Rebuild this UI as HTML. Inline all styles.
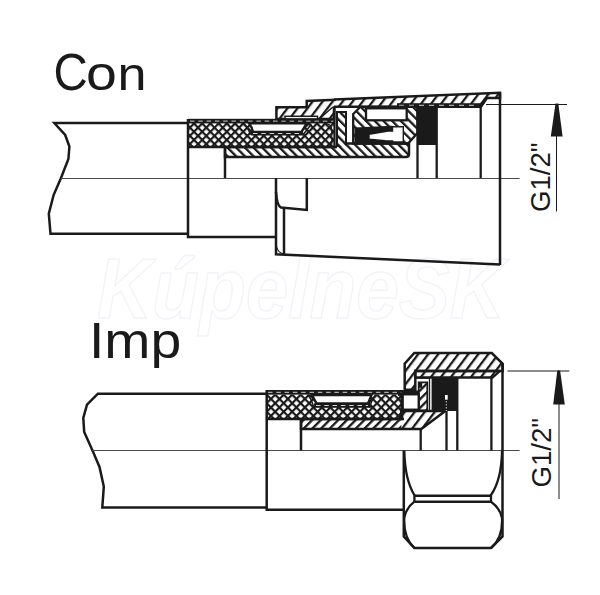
<!DOCTYPE html>
<html><head><meta charset="utf-8">
<style>
html,body{margin:0;padding:0;background:#fff;overflow:hidden;}
svg{display:block;}
text{font-family:"Liberation Sans",sans-serif;}
</style></head><body>
<svg width="600" height="595" viewBox="0 0 600 595">
<defs>
<pattern id="hf" patternUnits="userSpaceOnUse" width="6.15" height="20" patternTransform="rotate(45)"><rect x="0" y="0" width="2.3" height="20" fill="#1a1a1a"/></pattern>
<pattern id="hb" patternUnits="userSpaceOnUse" width="6.15" height="20" patternTransform="rotate(-45)"><rect x="0" y="0" width="2.3" height="20" fill="#1a1a1a"/></pattern>
<pattern id="nf" patternUnits="userSpaceOnUse" width="8" height="20" patternTransform="translate(-3,0) rotate(37)"><rect x="0" y="0" width="2.3" height="20" fill="#1a1a1a"/></pattern>
<pattern id="nf2" patternUnits="userSpaceOnUse" width="8" height="20" patternTransform="translate(2.5,0) rotate(37)"><rect x="0" y="0" width="2.3" height="20" fill="#1a1a1a"/></pattern>
<pattern id="xh" patternUnits="userSpaceOnUse" width="5.8" height="5.8" patternTransform="translate(194,122) rotate(45)"><rect x="0" y="0" width="2.2" height="5.8" fill="#1a1a1a"/><rect x="0" y="0" width="5.8" height="2.2" fill="#1a1a1a"/></pattern>
<pattern id="xh2" patternUnits="userSpaceOnUse" width="6" height="6" patternTransform="translate(275.2,393.2) rotate(45)"><rect x="0" y="0" width="2.2" height="6" fill="#1a1a1a"/><rect x="0" y="0" width="6" height="2.2" fill="#1a1a1a"/></pattern>
</defs>
<g fill="none" stroke="#1a1a1a" stroke-width="2.5" stroke-linejoin="miter" stroke-miterlimit="2.5">

<!-- watermark -->
<text x="97" y="318" font-size="86" font-weight="bold" font-style="italic" textLength="408" lengthAdjust="spacingAndGlyphs" fill="none" stroke="#f1f3f8" stroke-width="1.4">KúpelneSK</text>

<!-- ============ CON ============ -->
<g fill="#1a1a1a" stroke="none">
<text transform="translate(53.5,89.5) scale(0.93,1)" font-size="51">C</text>
<text transform="translate(86,89.5) scale(1.17,1)" font-size="47.4">o</text>
<text transform="translate(117.5,89.5) scale(1.11,1)" font-size="47">n</text>
</g>

<!-- hose -->
<path d="M188,123 L54.3,123 L65.2,135 L69.4,146.5 L68.4,159 L61,178 L53.7,194.8 L48.8,213.7 L50.5,233.7 L188,233.7"/>
<line x1="61" y1="178.5" x2="519.6" y2="178.5" stroke-width="1" stroke="#4a4a4a"/>

<!-- ferrule crosshatch -->
<path d="M188,123 L334,123 L334,147 L188,147 Z" fill="url(#xh)" stroke="none"/>
<rect x="188" y="118.8" width="147" height="4.6" fill="#1a1a1a" stroke="none"/>
<line x1="190" y1="121.1" x2="334" y2="121.1" stroke="#fff" stroke-width="0.8" stroke-dasharray="4.5 3.8"/>
<!-- pocket -->
<path d="M249,123.3 L306.7,123.3 L301.3,132 L253,132 Q252,127 249,123.3 Z" fill="#fff" stroke-width="2.3"/>
<path d="M244.3,124 Q249,129 250.3,135" stroke-width="1.4"/>
<path d="M311.3,124.3 L303.3,134.5" stroke-width="1.4"/>
<rect x="251" y="131.5" width="52" height="4" fill="#1a1a1a" stroke="none"/>
<line x1="253" y1="133.5" x2="301" y2="133.5" stroke="#fff" stroke-width="0.8" stroke-dasharray="4.5 3.8"/>
<path d="M188,147 L336,147" stroke-width="2.6"/>
<path d="M325,123.6 Q331.5,123.6 331.8,130 L331.8,145.5" stroke-width="1.2"/>

<!-- ferrule lower -->
<path d="M188,119 L188,237 L276,237"/>
<line x1="225" y1="147" x2="225" y2="178"/>

<!-- sleeve hatched band -->
<path d="M225,147 L336,147 L336,143.5 L409,143.5 L409,154 Q409,157 406,157 L225,157 Z" fill="url(#hb)" stroke="none"/>
<path d="M225,147 L337,147 M346,143.5 L409,143.5 L409,154 Q409,157 406,157 L225,157 L225,147"/>

<!-- ring -->
<path d="M276.4,107.3 L306.7,107.3 L306.7,101 L334,99.4 L334,119 L276.4,119 Z" fill="url(#nf)" stroke="none"/>
<path d="M334,106.8 L334,119 L276.4,119 L276.4,107.3 L306.7,107.3 L306.7,101 L336,99.8" />
<line x1="319" y1="119" x2="333" y2="107" stroke-width="1.4"/>
<rect x="285" y="116.3" width="32.5" height="2.6" fill="#fff" stroke-width="1.5"/>

<!-- nut top band -->
<path d="M334,99.4 L500,92.7 L500,98 L486.7,98 L480.7,106.8 L334,106.8 Z" fill="url(#nf)" stroke="none"/>
<path d="M334,99.4 L500,92.7 L500,98 L486.7,98 L480.7,106.8 L334,106.8"/>
<rect x="397" y="103.2" width="84" height="4.4" fill="#1a1a1a" stroke="none"/>
<line x1="399" y1="105.3" x2="479" y2="105.3" stroke="#fff" stroke-width="0.8" stroke-dasharray="5 5"/>
<line x1="480.7" y1="107" x2="487.5" y2="97" stroke-width="2.3"/>

<!-- left bar -->
<rect x="337" y="112" width="9" height="35" fill="url(#hb)" stroke="none"/>
<path d="M337,147 L337,112 L346,112 L346,143.5" stroke-width="2"/>
<line x1="334.5" y1="106" x2="334.5" y2="147" stroke-width="2.3"/>

<!-- T piece -->
<path d="M353.2,114 L360.5,106.8 L417.5,106.8 L417.5,133 L408,143.5 L353.2,143.5 Z" fill="url(#hb)" stroke-width="2.3"/>
<rect x="366" y="108.3" width="40.7" height="12" fill="#fff" stroke-width="2.3"/>
<path d="M354.5,127.5 L392.5,125.8 L392.5,142.5 L354.5,144.2 Z" fill="#1a1a1a" stroke="none"/>
<path d="M392.5,126.8 L403.3,126.8 L403.3,142 L392.5,142 L392.5,141 L385,140.8 L369,139.2 L369,134.2 L388,131 L392.5,131 Z" fill="#fff" stroke-width="1.4"/>

<!-- black seal -->
<rect x="417.5" y="106.7" width="19.2" height="38.3" fill="#1a1a1a" stroke="none"/>
<line x1="417.5" y1="106.5" x2="417.5" y2="178" stroke-width="2.3"/>
<line x1="436.7" y1="106.5" x2="436.7" y2="178" stroke-width="2.3"/>
<line x1="480.7" y1="107" x2="480.7" y2="178" stroke-width="2.3"/>
<line x1="486.7" y1="98" x2="500" y2="98" stroke-width="1.6"/>
<line x1="500" y1="92.7" x2="500" y2="265" stroke-width="2.5"/>

<!-- nut lower -->
<path d="M276,178 L276,254.3 L500,264.4"/>
<path d="M276,192 Q277,206 281,207.5 L306.8,209.9 L306.8,178"/>
<line x1="284" y1="207.5" x2="284" y2="254.5"/>
<path d="M276,244 Q277,253 284,254" stroke-width="1.2"/>

<!-- dimension -->
<line x1="486" y1="104.5" x2="567" y2="104.5" stroke-width="1"/>
<path d="M555.5,103.4 L558.3,103.4 L562.6,136.4 L550.8,136.4 Z" fill="#1a1a1a" stroke="none"/>
<line x1="556.5" y1="136" x2="556.5" y2="211.5" stroke-width="1"/>
<text transform="translate(550.2,212) rotate(-90)" font-size="27.6" fill="#1a1a1a" stroke="none">G1/2"</text>

<!-- ============ IMP ============ -->
<text transform="translate(88.9,358) scale(1.107,1)" x="0" y="0" font-size="50" fill="#1a1a1a" stroke="none">Imp</text>

<path d="M266.5,393.7 L97.9,393.7 L87,404.7 L83.3,417.8 L84.2,432 L92.5,450.5 L99.5,466.9 L103.8,486.5 L102.3,507.5 L266.5,507.5"/>
<line x1="92.5" y1="450.5" x2="519.6" y2="450.5" stroke-width="1" stroke="#4a4a4a"/>

<!-- ferrule -->
<path d="M266.7,394.5 L402,394.5 L402,419 L266.7,419 Z" fill="url(#xh2)" stroke="none"/>
<rect x="266.7" y="390" width="137" height="4.6" fill="#1a1a1a" stroke="none"/>
<line x1="268" y1="392.3" x2="402" y2="392.3" stroke="#fff" stroke-width="0.8" stroke-dasharray="4.5 3.8"/>
<path d="M312,395 L371.6,395 L368,403.3 L316.5,403.3 Z" fill="#fff" stroke-width="2.3"/>
<path d="M308,395 Q312,400 313.8,408" stroke-width="1.4"/>
<path d="M375.5,395 Q371,400 370,408" stroke-width="1.4"/>
<rect x="314" y="403.3" width="56" height="4.5" fill="#1a1a1a" stroke="none"/>
<line x1="316" y1="405.5" x2="368" y2="405.5" stroke="#fff" stroke-width="0.8" stroke-dasharray="4.5 3.8"/>
<path d="M398,394.5 Q402,395 402,399 L402,419"/>
<path d="M266.7,419 L404,419" stroke-width="2.6"/>
<path d="M266.7,390 L266.7,509.7 L404,509.7"/>
<line x1="301" y1="419" x2="301" y2="450.5"/>

<!-- sleeve + inner bottom hatched -->
<path d="M301,419 L401.3,419 L401.3,429 L301,429 Z" fill="url(#hf)" stroke="none"/>
<path d="M401.3,411 L445.3,411 L421.3,429 L401.3,429 Z" fill="url(#nf2)" stroke="none"/>
<path d="M301,419 L401.3,419 L401.3,411 L445.3,411 L421.3,429 L301,429 Z"/>
<path d="M401.3,394.5 L418.7,394.5 L418.7,411 L401.3,411 Z" fill="none" stroke-width="1.6"/>

<!-- nut -->
<path d="M404.7,363.6 L414.3,353 L491.8,353 L502.7,363.8 L502.7,371 L415.3,371 L415.3,389.7 L404.7,389.7 Z" fill="url(#nf2)"/>
<path d="M415.3,371 L500,371 L492.5,377.5 L415.3,377.5 Z" fill="url(#nf2)" stroke-width="2.3"/>
<rect x="401.3" y="390.5" width="17.4" height="3.5" fill="#1a1a1a" stroke="none"/>
<!-- inner piece -->
<path d="M415.3,378 L429.5,378 L429.5,410.3" fill="none" stroke-width="1.3"/>
<path d="M418.7,382.3 L427.3,382.3 L427.3,410.3 L418.7,410.3 Z" fill="url(#hf)" stroke-width="1.8"/>
<rect x="418.7" y="382.3" width="3.5" height="5.5" fill="#1a1a1a" stroke="none"/>
<rect x="402.7" y="394.3" width="16" height="15.4" fill="#fff" stroke-width="2.3"/>
<rect x="431.6" y="377.7" width="25.7" height="33.3" fill="#1a1a1a" stroke="none"/>
<rect x="445" y="395" width="2.7" height="4.7" fill="#fff" stroke="none"/>
<line x1="446.3" y1="401" x2="446.3" y2="411" stroke="#fff" stroke-width="0.8" stroke-dasharray="1.5 1.5"/>
<line x1="446.5" y1="411" x2="446.5" y2="450.5" stroke-width="2.3"/>
<line x1="457.3" y1="377" x2="457.3" y2="450.5" stroke-width="2.3"/>
<line x1="491.4" y1="377.5" x2="491.4" y2="450.5" stroke-width="2.3"/>
<line x1="420.7" y1="429" x2="420.7" y2="450.5" stroke-width="2.3"/>

<!-- hex lower -->
<path d="M502.5,363.8 L502.5,536.5 L491,548.1 L414.4,548.1 L403.8,536.5 L403.8,450.5"/>
<path d="M404.3,451 Q405,480 414.4,495 L414.4,501.7 M491,501.7 L491,495 Q501.5,480 502,451" stroke-width="2.3"/>
<line x1="414.4" y1="495.8" x2="491" y2="495.8"/>
<line x1="414.4" y1="501.7" x2="491" y2="501.7"/>
<path d="M414.4,501.7 Q406,508 404.2,518 Q403.5,538 414.4,548" stroke-width="2.3"/>
<path d="M491,501.7 Q500,508 502,518 Q503,538 491,548" stroke-width="2.3"/>

<!-- dimension -->
<line x1="507.5" y1="371" x2="569.3" y2="371" stroke-width="1"/>
<path d="M557.3,370.6 L560.1,370.6 L564.8,404.4 L553.2,404.4 Z" fill="#1a1a1a" stroke="none"/>
<line x1="559" y1="404" x2="559" y2="499" stroke-width="1"/>
<text transform="translate(550.5,487.5) rotate(-90)" font-size="27.6" fill="#1a1a1a" stroke="none">G1/2"</text>
</g>
</svg>
</body></html>
